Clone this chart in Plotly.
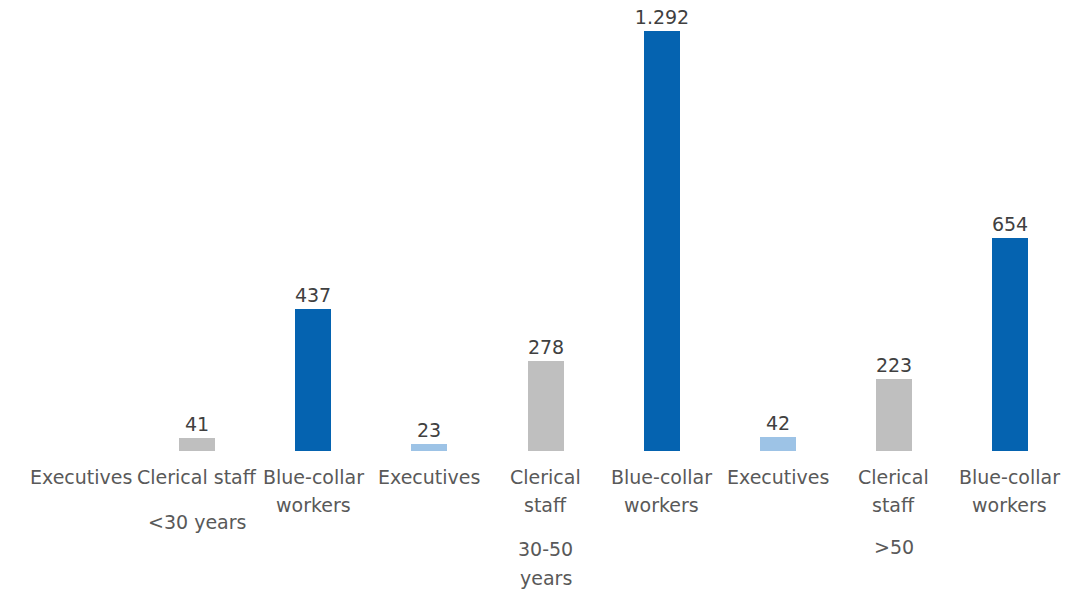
import plotly.graph_objects as go

categories = ["Executives", "Clerical staff", "Blue-collar<br>workers",
              "Executives", "Clerical<br>staff", "Blue-collar<br>workers",
              "Executives", "Clerical<br>staff", "Blue-collar<br>workers"]
values = [None, 41, 437, 23, 278, 1292, 42, 223, 654]
value_labels = ["", "41", "437", "23", "278", "1.292", "42", "223", "654"]
groups = ["<30 years", "30-50<br>years", ">50"]
group_centers = [1, 4, 7]

colors = ["#9DC3E6", "#BFBFBF", "#0563B0"] * 3
x = list(range(len(categories)))
FONT = "DejaVu Sans"

fig = go.Figure()
fig.add_trace(go.Bar(
    x=x, y=values, width=0.31,
    marker=dict(color=colors, line=dict(width=0)),
    text=value_labels, textposition="outside", cliponaxis=False,
    constraintext="none",
    textfont=dict(family=FONT, size=19, color="#404040"),
))

# category labels, one annotation per line for exact line spacing
cat_line_shift = [-26, -54]
for xi, cat in zip(x, categories):
    for li, line in enumerate(cat.split("<br>")):
        fig.add_annotation(x=xi, y=0, xref="x", yref="y", text=line, showarrow=False,
                           yanchor="middle", yshift=cat_line_shift[li],
                           font=dict(family=FONT, size=19, color="#595959"))

group_first_shift = [-71, -98, -96]
for gc, g, sh in zip(group_centers, groups, group_first_shift):
    for li, line in enumerate(g.split("<br>")):
        fig.add_annotation(x=gc, y=0, xref="x", yref="y", text=line, showarrow=False,
                           yanchor="middle", yshift=sh - 29 * li,
                           font=dict(family=FONT, size=19, color="#595959"))

fig.update_layout(
    width=1065, height=591, autosize=False,
    margin=dict(l=23, r=0, t=20, b=140),
    plot_bgcolor="white", paper_bgcolor="white",
    showlegend=False, bargap=0,
    xaxis=dict(range=[-0.5, 8.474], tickmode="array", tickvals=x,
               showticklabels=False, showgrid=False, zeroline=False,
               showline=False, ticks=""),
    yaxis=dict(range=[0, 1325.8], visible=False),
)

fig.write_html("out.html")
